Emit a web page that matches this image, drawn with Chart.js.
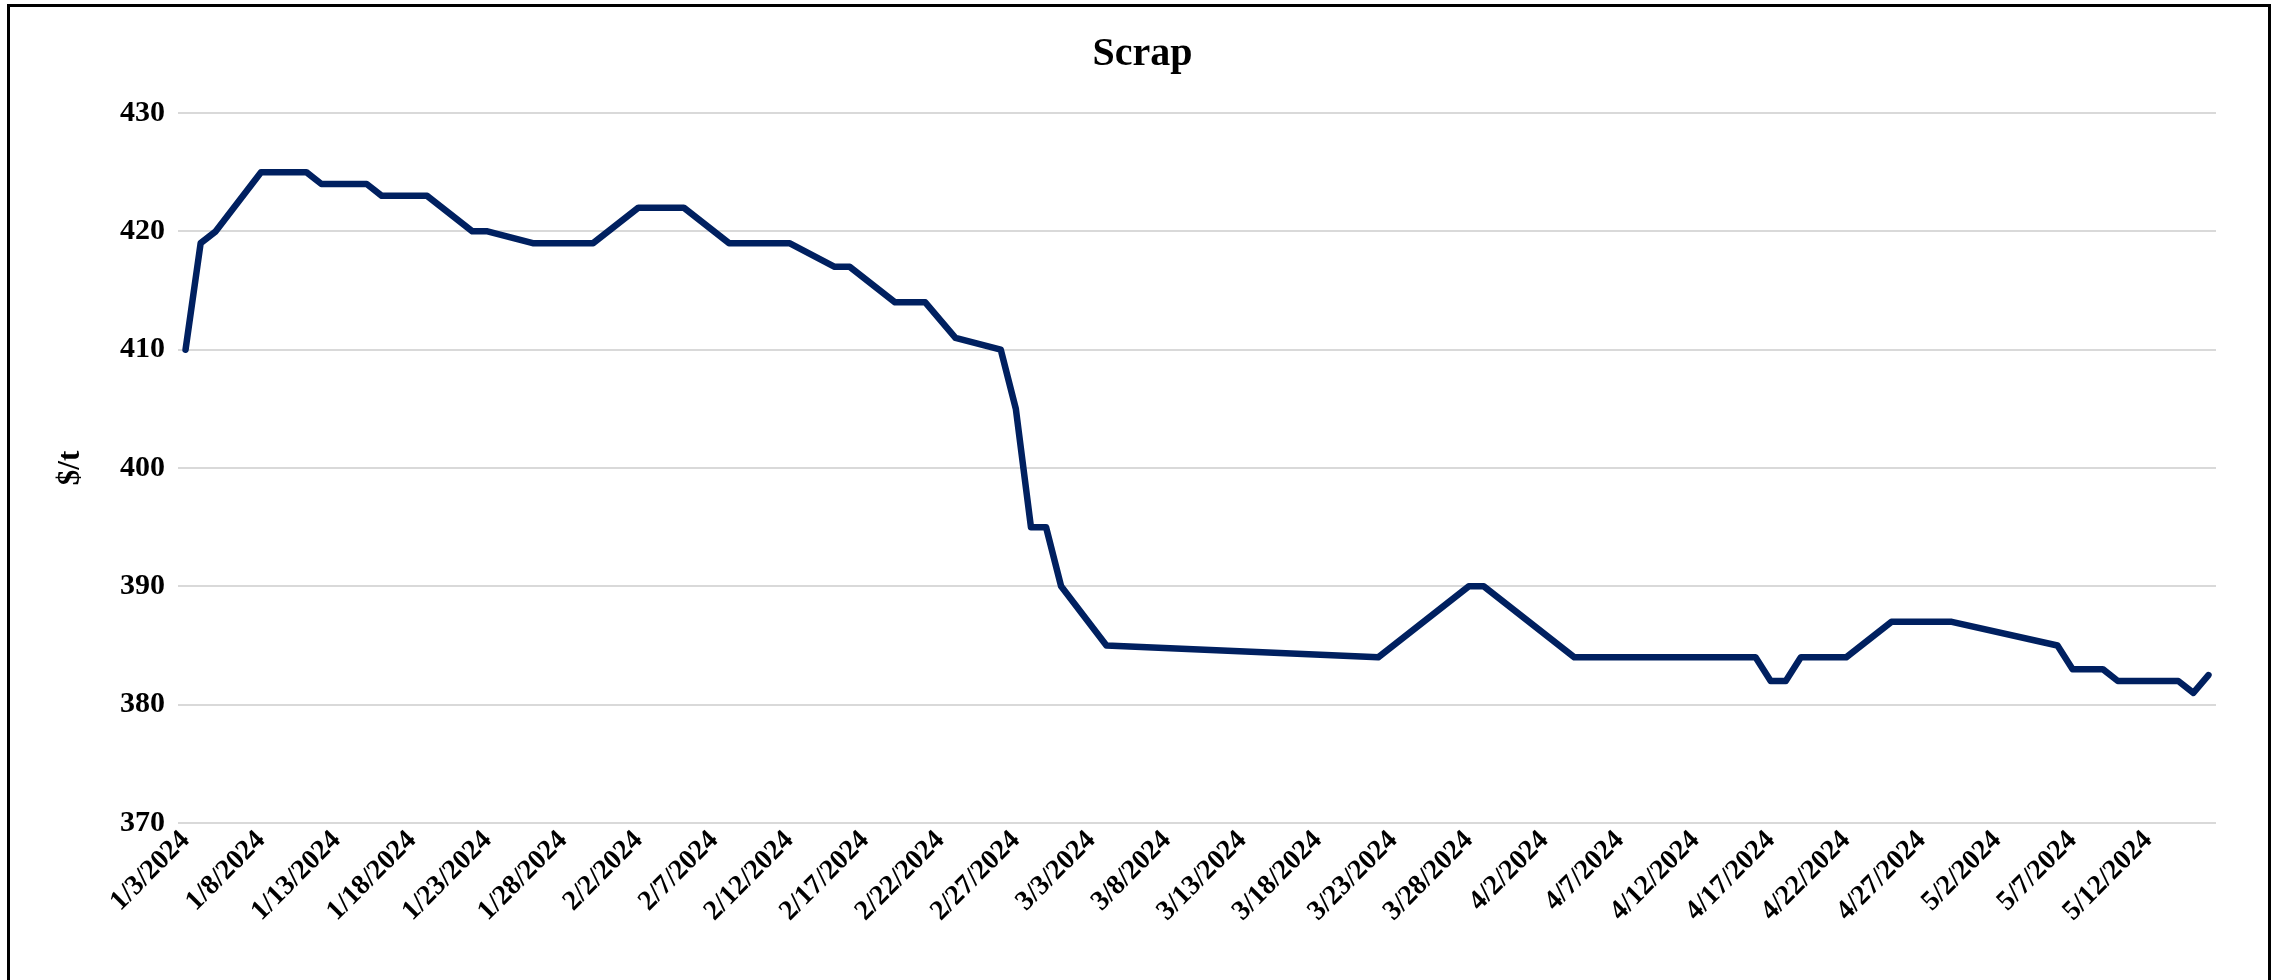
<!DOCTYPE html>
<html>
<head>
<meta charset="utf-8">
<script src="https://cdn.jsdelivr.net/npm/chart.js@4.4.1/dist/chart.umd.min.js"></script>
<style>
html, body { margin: 0; padding: 0; background: #fff; overflow: hidden; }
#wrap { position: relative; width: 2285px; height: 980px; }
#frame { position: absolute; left: 7px; top: 4px; width: 2264px; height: 1100px; border: 3px solid #000; box-sizing: border-box; }
#chart { position: absolute; left: 0; top: 0; }
</style>
</head>
<body>
<div id="wrap">
  <canvas id="chart" width="2285" height="980"></canvas>
  <div id="frame"></div>
</div>
<script>
// scrap price, $/t
var dates = ['1/3/2024', '1/4/2024', '1/5/2024', '1/8/2024', '1/11/2024', '1/12/2024', '1/15/2024',
  '1/16/2024', '1/19/2024', '1/22/2024', '1/23/2024', '1/26/2024', '1/30/2024', '2/2/2024',
  '2/5/2024', '2/8/2024', '2/12/2024', '2/15/2024', '2/16/2024', '2/19/2024', '2/21/2024',
  '2/23/2024', '2/26/2024', '2/27/2024', '2/28/2024', '2/29/2024', '3/1/2024', '3/4/2024',
  '3/22/2024', '3/28/2024', '3/29/2024', '4/4/2024', '4/16/2024', '4/17/2024', '4/18/2024',
  '4/19/2024', '4/22/2024', '4/25/2024', '4/29/2024', '5/6/2024', '5/7/2024', '5/9/2024',
  '5/10/2024', '5/14/2024', '5/15/2024', '5/16/2024'];
var prices = [410, 419, 420, 425, 425, 424, 424,
  423, 423, 420, 420, 419, 419, 422,
  422, 419, 419, 417, 417, 414, 414,
  411, 410, 405, 395, 395, 390, 385,
  384, 390, 390, 384, 384, 382, 382,
  384, 384, 387, 387, 385, 383, 383,
  382, 382, 381, 382.5];
var tickLabels = ['1/3/2024', '1/8/2024', '1/13/2024', '1/18/2024', '1/23/2024', '1/28/2024',
  '2/2/2024', '2/7/2024', '2/12/2024', '2/17/2024', '2/22/2024', '2/27/2024', '3/3/2024',
  '3/8/2024', '3/13/2024', '3/18/2024', '3/23/2024', '3/28/2024', '4/2/2024', '4/7/2024',
  '4/12/2024', '4/17/2024', '4/22/2024', '4/27/2024', '5/2/2024', '5/7/2024', '5/12/2024'];
var yTicks = [370, 380, 390, 400, 410, 420, 430];

var start = Date.UTC(2024, 0, 3);
function dayOf(s) {
  var p = s.split('/');
  return (Date.UTC(+p[2], +p[0] - 1, +p[1]) - start) / 86400000;
}

var points = [];
for (var i = 0; i < dates.length; i++) {
  points.push({ x: dayOf(dates[i]), y: prices[i] });
}

var serif = '"Liberation Serif", "Times New Roman", serif';

var ctx = document.getElementById('chart').getContext('2d');
var myChart = new Chart(ctx, {
  type: 'line',
  data: {
    datasets: [{
      label: 'Scrap',
      data: points,
      borderColor: '#002060',
      borderWidth: 6.5,
      borderCapStyle: 'round',
      borderJoinStyle: 'round',
      pointRadius: 0,
      tension: 0,
      fill: false
    }]
  },
  options: {
    responsive: false,
    animation: false,
    layout: { padding: { left: 12, right: 12, top: 0, bottom: 0 } },
    plugins: {
      legend: { display: false },
      tooltip: { enabled: false },
      title: {
        display: true,
        text: 'Scrap',
        color: '#000',
        font: { family: serif, size: 40, weight: 'bold' },
        padding: { top: 31, bottom: 34 }
      }
    },
    scales: {
      x: {
        type: 'linear',
        min: -0.5,
        max: dayOf('5/16/2024') + 0.5,
        grid: { display: false, drawTicks: false },
        border: { display: false },
        afterBuildTicks: function (scale) {
          scale.ticks = tickLabels.map(function (s) { return { value: dayOf(s) }; });
        },
        afterFit: function (scale) { scale.height = 157; },
        ticks: {
          autoSkip: false,
          minRotation: 45,
          maxRotation: 45,
          padding: 1,
          color: '#000',
          font: { family: serif, size: 28, weight: 'bold' },
          callback: function (v, i) { return tickLabels[i]; }
        }
      },
      y: {
        min: 370,
        max: 430,
        afterBuildTicks: function (scale) {
          scale.ticks = yTicks.map(function (v) { return { value: v }; });
        },
        afterFit: function (scale) { scale.width = 166; },
        grid: { color: '#d9d9d9', lineWidth: 2, drawTicks: false },
        border: { display: false },
        ticks: {
          padding: 13,
          color: '#000',
          font: { family: serif, size: 30, weight: 'bold' }
        },
        title: {
          display: true,
          text: '$/t',
          color: '#000',
          font: { family: serif, size: 31, weight: 'bold' },
          padding: { top: 40, bottom: 0 }
        }
      },
      // empty right-hand strip so the plot ends where the reference's does
      yRight: {
        position: 'right',
        min: 370,
        max: 430,
        grid: { display: false, drawTicks: false },
        border: { display: false },
        ticks: { display: false },
        afterFit: function (scale) { scale.width = 57; }
      }
    }
  }
});
</script>
</body>
</html>
